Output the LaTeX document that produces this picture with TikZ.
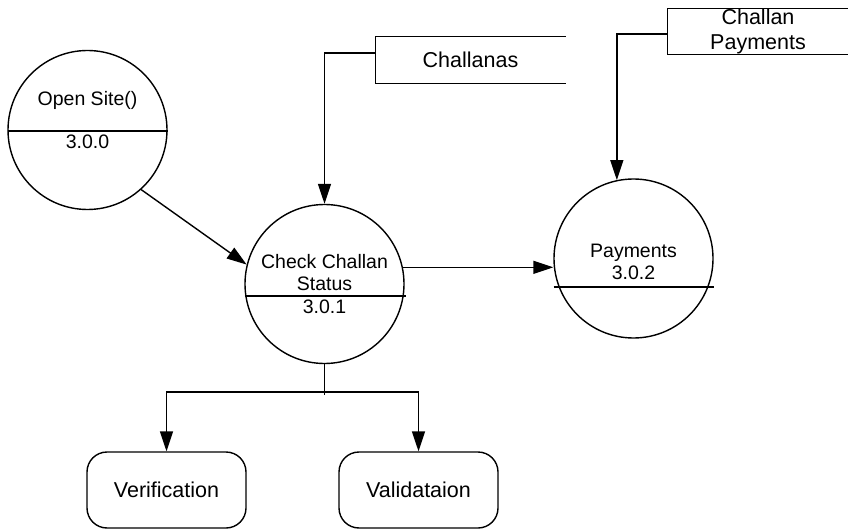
\documentclass[tikz,border=0pt]{standalone}
\usepackage{fontspec}
\setmainfont{Liberation Sans}
\usetikzlibrary{arrows.meta,calc}
\begin{document}
\begin{tikzpicture}[x=1pt,y=-1pt,line width=1.4pt,
  process/.style={draw,circle,minimum size=159pt,inner sep=0pt},
  ptext/.style={font=\fontsize{19.5}{22}\selectfont,inner sep=0pt,align=center},
  store/.style={minimum width=189pt,minimum height=46pt,inner sep=0pt,align=center,
                font=\fontsize{21.5}{25}\selectfont},
  entity/.style={draw,rounded corners=20pt,minimum width=159pt,minimum height=76pt,
                 inner sep=0pt,font=\fontsize{21.5}{25}\selectfont},
  arr/.style={-{Triangle[length=20pt,width=13pt]}}]
\useasboundingbox (0,0) rectangle (848,529);

% processes
\node[process] (open) at (87.5,130) {};
\node[process] (check) at (324.5,284) {};
\node[process] (pay) at (633.5,258.5) {};

\draw ($(open.center)+(-80,1)$) -- ++(160,0);
\draw ($(check.center)+(-80,12)$) -- ++(161,0);
\draw ($(pay.center)+(-80,28.5)$) -- ++(160,0);

\node[ptext] (openname) at (87.5,100) {Open Site()};
\node[ptext] (openid) at (87.5,142) {3.0.0};
\node[ptext] (checkname) at (324.5,273) {Check Challan\\Status};
\node[ptext] (checkid) at (324.5,307) {3.0.1};
\node[ptext] (payname) at (633.5,262) {Payments\\3.0.2};

% data stores
\node[store] (challanas) at (470.5,60) {Challanas};
\draw (challanas.north east) -- (challanas.north west) -- (challanas.south west) -- (challanas.south east);
\node[store,minimum width=180pt,minimum height=45pt] (cpay) at (758,31.5) {Challan\\Payments};
\draw (cpay.north east) -- (cpay.north west) -- (cpay.south west) -- (cpay.south east);

% external entities
\node[entity] (verif) at (166.5,490) {Verification};
\node[entity] (valid) at (418.5,490) {Validataion};

% data flows
\draw[arr] ([yshift=7pt]challanas.west) -| (check.north);
\draw[arr] ([yshift=-2.5pt]cpay.west) -| (pay.102);
\draw[arr] (open.-48) -- (check.166);
\draw[arr] (check.12) -- (check.12 -| pay.west);

\coordinate (split) at (324.5,392);
\draw (check.south) -- ($(split)+(0,3)$);
\draw[arr] (split) -| (verif.north);
\draw[arr] (split) -| (valid.north);
\end{tikzpicture}
\end{document}
